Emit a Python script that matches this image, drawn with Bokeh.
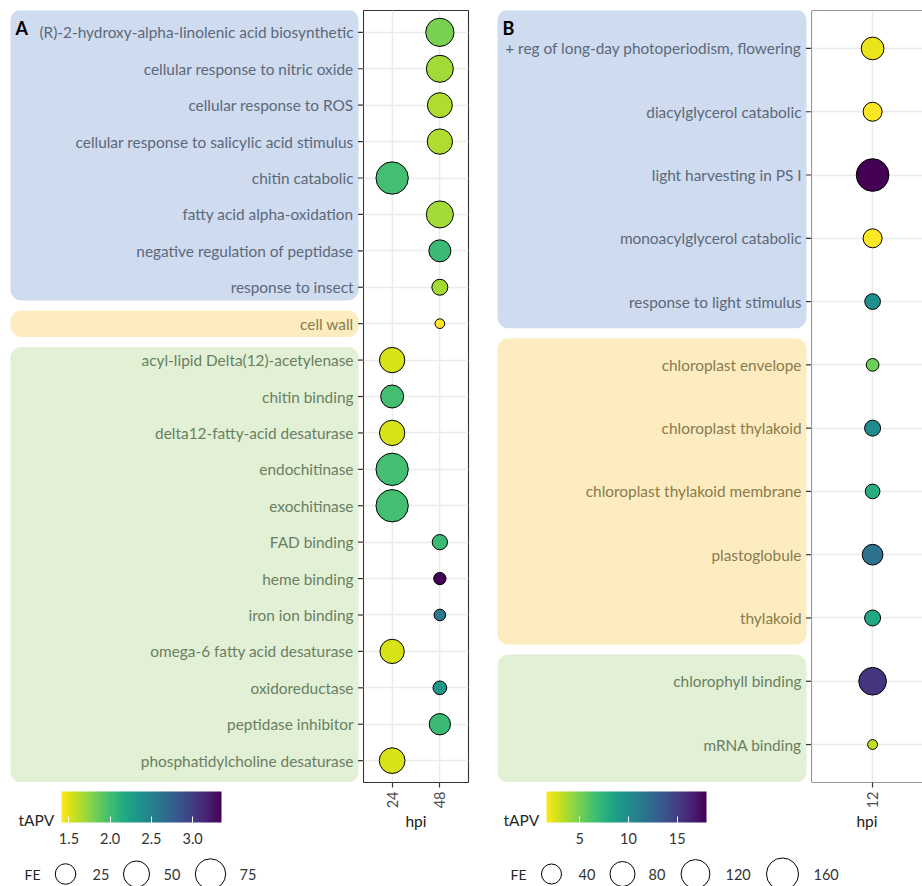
import math
import numpy as np
from bokeh.plotting import figure
from bokeh.layouts import row, column
from bokeh.models import (Range1d, FixedTicker, Grid, LinearColorMapper, ColorBar,
                          ColumnDataSource, Span, PrintfTickFormatter)
from bokeh.palettes import Viridis256
from bokeh.core.properties import value
from bokeh.transform import factor_cmap
from bokeh.embed import file_html
from bokeh.resources import INLINE

# ---------------- Panel A: 24 / 48 hpi ----------------
a_terms = [
    "(R)-2-hydroxy-alpha-linolenic acid biosynthetic",
    "cellular response to nitric oxide",
    "cellular response to ROS",
    "cellular response to salicylic acid stimulus",
    "chitin catabolic",
    "fatty acid alpha-oxidation",
    "negative regulation of peptidase",
    "response to insect",
    "cell wall",
    "acyl-lipid Delta(12)-acetylenase",
    "chitin binding",
    "delta12-fatty-acid desaturase",
    "endochitinase",
    "exochitinase",
    "FAD binding",
    "heme binding",
    "iron ion binding",
    "omega-6 fatty acid desaturase",
    "oxidoreductase",
    "peptidase inhibitor",
    "phosphatidylcholine desaturase",
]
a_group = ["BP"] * 8 + ["CC"] + ["MF"] * 12
a_hpi = ["48", "48", "48", "48", "24", "48", "48", "48", "48", "24", "24",
         "24", "24", "24", "48", "48", "48", "24", "48", "48", "24"]
a_fe = [62, 55, 44, 46, 88, 55, 31, 11, 1, 46, 35, 46, 88, 88, 9.4, 3.9, 3.0, 41, 6.2, 28, 48]
a_tapv = [1.80, 1.68, 1.64, 1.64, 1.99, 1.68, 2.03, 1.67, 1.41, 1.53, 1.99,
          1.53, 1.99, 1.99, 2.03, 3.35, 2.57, 1.53, 2.32, 2.03, 1.53]
a_hpi_levels = ["24", "48"]
a_tapv_ticks = [1.5, 2.0, 2.5, 3.0]
a_fe_breaks = [25, 50, 75]

# ---------------- Panel B: 12 hpi ----------------
b_terms = [
    "+ reg of long-day photoperiodism, flowering",
    "diacylglycerol catabolic",
    "light harvesting in PS I",
    "monoacylglycerol catabolic",
    "response to light stimulus",
    "chloroplast envelope",
    "chloroplast thylakoid",
    "chloroplast thylakoid membrane",
    "plastoglobule",
    "thylakoid",
    "chlorophyll binding",
    "mRNA binding",
]
b_group = ["BP"] * 5 + ["CC"] * 5 + ["MF"] * 2
b_hpi = ["12"] * 12
b_fe = [60, 33.5, 169, 33.5, 16.4, 6.1, 17.7, 12.4, 44.7, 17.7, 107, 1]
b_tapv = [2.1, 1.6, 18.0, 1.6, 9.8, 5.2, 10.0, 7.8, 11.8, 8.2, 15.5, 3.2]
b_hpi_levels = ["12"]
b_tapv_ticks = [5, 10, 15]
b_fe_breaks = [40, 80, 120, 160]

# ---------------- shared styling ----------------
GROUPS = ["BP", "CC", "MF"]
BOX_FILL = ["#cfdbee", "#fdecbf", "#e2f0d6"]
GROUP_TEXT = ["#5b697c", "#897b4d", "#6a7f62"]
FONT = "Lato"
TOP = 10            # top edge of the dot panels
PANEL_BOTTOM = 782  # bottom edge of the dot panels
LEG_SPLIT = 850     # colour bar strip above, size legend strip below
HEIGHT = 886
VIRIDIS_REV = tuple(reversed(Viridis256))


def marker_size(fe, base, gain):
    # area-like size scale: visible diameter grows with sqrt(FE); minus the outline width
    return base + gain * np.sqrt(np.asarray(fe, dtype=float)) - 1.0


def bare_figure(width, height, x_range, y_range, **kw):
    p = figure(width=width, height=height, x_range=x_range, y_range=y_range,
               x_axis_type=None, y_axis_type=None, toolbar_location=None,
               output_backend="svg", min_border=0, outline_line_color=None,
               background_fill_color="white", border_fill_color="white", **kw)
    return p


def build_panel(letter, terms, groups, hpi, hpi_levels, fe, tapv, tapv_ticks, tick_fmt,
                fe_breaks, size_base, size_gain, lab_w, box_left, dot_w, dot_right, x_end,
                boxed, tapv_title_x, cb_x, fe_title_x, fe_key_x, fe_lab_x):
    n = len(terms)
    ypos = list(range(1, n + 1))
    ppu = (PANEL_BOTTOM - TOP) / (n + 0.2)
    yr = Range1d(n + 0.6, 0.4)

    # ----- term labels on rounded group boxes -----
    lab = bare_figure(lab_w, PANEL_BOTTOM, Range1d(0, lab_w), yr, min_border_top=TOP)
    spans = []
    for i, g in enumerate(groups):
        if spans and spans[-1][0] == g:
            spans[-1][2] = i + 1
        else:
            spans.append([g, i + 1, i + 1])
    pad = 0.5 - 5.0 / ppu
    tops = [s[1] - pad for s in spans]
    bottoms = [s[2] + pad for s in spans]
    tops[0] = 0.4 - 1.0 / ppu
    bottoms[-1] = n + 0.6
    box_src = ColumnDataSource(dict(top=tops, bottom=bottoms, group=[s[0] for s in spans]))
    box_kw = dict(left=box_left, right=lab_w - 5, top="top", bottom="bottom", source=box_src,
                  fill_color=factor_cmap("group", BOX_FILL, GROUPS), line_color=None)
    try:
        lab.quad(border_radius=11, **box_kw)
    except Exception:
        lab.quad(**box_kw)

    txt_src = ColumnDataSource(dict(y=ypos, term=terms, group=groups))
    lab.text(x=lab_w - 10, y="y", text="term", source=txt_src, text_align="right",
             text_baseline="middle", text_font=value(FONT), text_font_size="15.4px",
             text_color=factor_cmap("group", GROUP_TEXT, GROUPS))
    lab.segment(x0=lab_w - 5.5, x1=lab_w, y0="y", y1="y", source=txt_src,
                line_color="#333333", line_width=1.2)
    lab.text(x=[box_left + 5], y=[0.4 + 6.5 / ppu], text=[letter], text_align="left",
             text_baseline="top", text_font=value(FONT), text_font_size="18px",
             text_font_style="bold", text_color="black")

    # ----- dot panel -----
    dot = figure(width=dot_w, height=LEG_SPLIT, x_range=Range1d(0.4, x_end), y_range=yr,
                 y_axis_type=None, toolbar_location=None, output_backend="svg",
                 min_border=0, min_border_top=TOP, min_border_bottom=LEG_SPLIT - PANEL_BOTTOM,
                 min_border_right=dot_right, background_fill_color="white",
                 border_fill_color="white")
    ax = dot.xaxis[0]
    ax.ticker = FixedTicker(ticks=list(range(1, len(hpi_levels) + 1)))
    ax.major_label_overrides = {i + 1: lv for i, lv in enumerate(hpi_levels)}
    ax.major_label_orientation = math.pi / 2
    ax.axis_line_color = None
    ax.major_tick_out = 5
    ax.major_tick_in = 0
    ax.major_tick_line_color = "#333333"
    ax.major_tick_line_width = 1.2
    ax.minor_tick_line_color = None
    ax.major_label_text_font = FONT
    ax.major_label_text_font_size = "14.5px"
    ax.major_label_text_color = "#4d4d4d"
    ax.major_label_standoff = 4
    ax.axis_label = "hpi"
    ax.axis_label_text_font = FONT
    ax.axis_label_text_font_size = "15.5px"
    ax.axis_label_text_font_style = "normal"
    ax.axis_label_text_color = "#1a1a1a"
    ax.axis_label_standoff = 1
    dot.xgrid.grid_line_color = "#ebebeb"
    dot.xgrid.grid_line_width = 1.5
    dot.add_layout(Grid(dimension=1, ticker=FixedTicker(ticks=ypos),
                        grid_line_color="#ebebeb", grid_line_width=1.5))
    if boxed:
        dot.outline_line_color = "#333333"
        dot.outline_line_width = 1.1
    else:
        dot.outline_line_color = None
        for loc, dim in ((0.4, "height"), (0.4, "width"), (n + 0.6, "width")):
            dot.add_layout(Span(location=loc, dimension=dim, line_color="#333333",
                                line_width=1.1))

    mapper = LinearColorMapper(palette=VIRIDIS_REV, low=min(tapv), high=max(tapv))
    dot_src = ColumnDataSource(dict(
        x=[hpi_levels.index(h) + 1 for h in hpi], y=ypos, tapv=tapv, fe=fe,
        size=marker_size(fe, size_base, size_gain)))
    dot.scatter(x="x", y="y", size="size", source=dot_src,
                fill_color={"field": "tapv", "transform": mapper},
                line_color="black", line_width=1)

    # ----- colour bar strip -----
    strip_h = LEG_SPLIT - PANEL_BOTTOM
    leg_top = bare_figure(lab_w, strip_h, Range1d(0, lab_w), Range1d(strip_h, 0))
    leg_top.text(x=[tapv_title_x], y=[37], text=["tAPV"], text_align="left",
                 text_baseline="middle", text_font=value(FONT), text_font_size="15.5px",
                 text_color="#262626")
    cb = ColorBar(color_mapper=mapper, orientation="horizontal", width=160, height=31,
                  location=(cb_x, 4), padding=0, margin=0,
                  ticker=FixedTicker(ticks=tapv_ticks),
                  formatter=PrintfTickFormatter(format=tick_fmt),
                  major_label_text_font=FONT,
                  major_label_text_font_size="14.5px", major_label_text_color="#333333",
                  major_tick_line_color="white", major_tick_in=6, major_tick_out=0,
                  minor_tick_line_color=None, bar_line_color=None, border_line_color=None,
                  background_fill_alpha=0, label_standoff=10)
    leg_top.add_layout(cb)

    # ----- size legend strip -----
    bot_h = HEIGHT - LEG_SPLIT
    leg_bot = bare_figure(lab_w + dot_w, bot_h, Range1d(0, lab_w + dot_w), Range1d(bot_h, 0))
    leg_bot.text(x=[fe_title_x], y=[23.5], text=["FE"], text_align="left",
                 text_baseline="middle", text_font=value(FONT), text_font_size="14px",
                 text_color="#262626")
    key_src = ColumnDataSource(dict(x=fe_key_x, y=[23.5] * len(fe_breaks), lx=fe_lab_x,
                                    lab=[str(b) for b in fe_breaks],
                                    size=marker_size(fe_breaks, size_base, size_gain)))
    leg_bot.scatter(x="x", y="y", size="size", source=key_src, fill_color="white",
                    line_color="black", line_width=1)
    leg_bot.text(x="lx", y="y", text="lab", source=key_src, text_align="left",
                 text_baseline="middle", text_font=value(FONT), text_font_size="14.5px",
                 text_color="#333333")

    return column(row(column(lab, leg_top), dot), leg_bot)


panel_a = build_panel("A", a_terms, a_group, a_hpi, a_hpi_levels, a_fe, a_tapv, a_tapv_ticks,
                      "%.1f", a_fe_breaks, size_base=8.0, size_gain=2.7, lab_w=363,
                      box_left=10, dot_w=124, dot_right=19, x_end=2.6, boxed=True,
                      tapv_title_x=18, cb_x=61, fe_title_x=24,
                      fe_key_x=[65, 136, 210], fe_lab_x=[92, 163, 239])
panel_b = build_panel("B", b_terms, b_group, b_hpi, b_hpi_levels, b_fe, b_tapv, b_tapv_ticks,
                      "%d", b_fe_breaks, size_base=9.0, size_gain=1.9, lab_w=324,
                      box_left=10, dot_w=111, dot_right=0, x_end=1.49, boxed=False,
                      tapv_title_x=16, cb_x=59, fe_title_x=23,
                      fe_key_x=[64, 135, 208, 295], fe_lab_x=[91, 161, 238, 326])

layout = row(panel_a, panel_b)
open("out.html", "w").write(file_html(layout, INLINE))
